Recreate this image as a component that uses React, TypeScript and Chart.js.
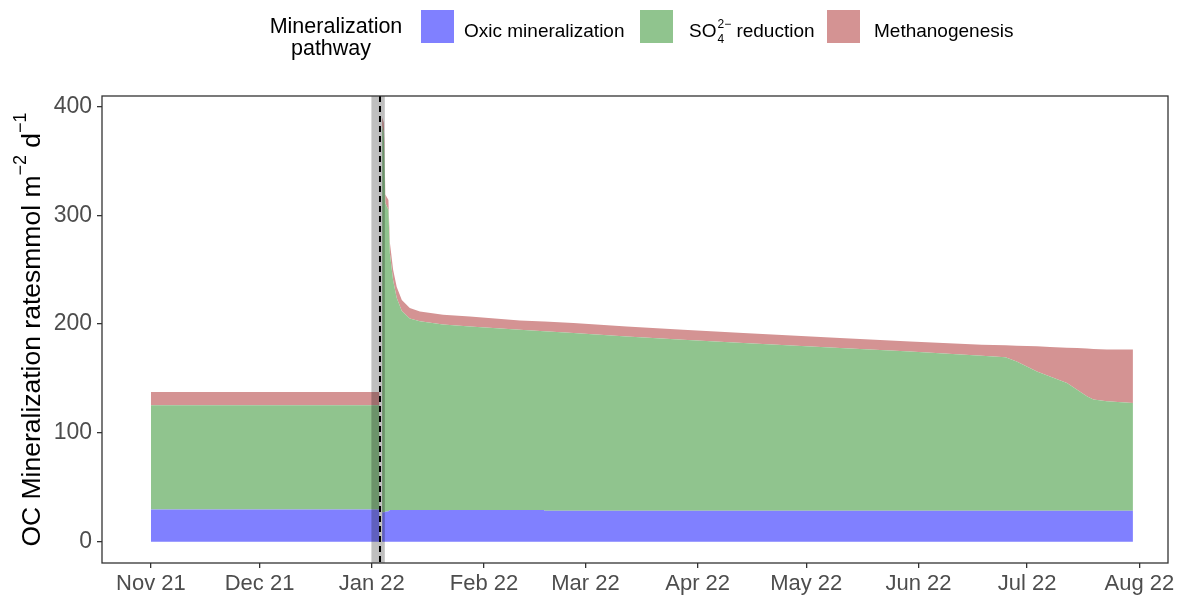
import { useEffect, useRef } from "react";
import { Chart, registerables } from "chart.js";

Chart.register(...registerables);

// x = days since 1 Nov 2021
const monthTickDays = [0, 30, 61, 92, 120, 151, 181, 212, 242, 273];
const monthTickLabels = ["Nov 21", "Dec 21", "Jan 22", "Feb 22", "Mar 22", "Apr 22", "May 22", "Jun 22", "Jul 22", "Aug 22"];
const yTicks = [0, 100, 200, 300, 400];

const days = [
  0, 63.07, 63.1, 63.85, 63.9, 64.3, 64.5, 64.75, 65.6, 66.0, 66.9, 67.9, 69.3, 71.5, 74.3, 80.7, 88.1, 101.9, 108.6,
  108.7, 116.7, 131.4, 147, 163.6, 190.3, 209.7, 229.5, 236, 239.1, 241.9, 244.7, 248.3, 253, 255.8,
  258.5, 260.3, 264, 271.2,
];
const oxic = [
  29.6, 29.6, 0, 0, 27.2, 27.2, 27.2, 27.5, 28.0, 29.3, 29.3, 29.3, 29.3, 29.3, 29.3, 29.3, 29.3, 29.3, 29.3,
  28.6, 28.6, 28.6, 28.6, 28.6, 28.6, 28.6, 28.6, 28.6, 28.6, 28.6, 28.6, 28.6, 28.6, 28.6,
  28.6, 28.6, 28.6, 28.6,
];
const sulfate = [
  95.7, 95.7, 0, 0, 354.8, 348.8, 326.8, 283.5, 277, 235.7, 210.7, 194.7, 182.7, 175.7, 173.2, 170.2, 168.5, 165.5, 164.2,
  164.9, 163.1, 160, 157, 154, 149.4, 146.3, 142.4, 140.9, 137.1, 132.5, 127.9, 123.3, 117.3, 111.1,
  105, 102, 100.4, 98.9,
];
const methane = [
  12.3, 12.3, 0, 0, 8, 9, 11, 8, 9, 10, 10, 10, 10, 9.7, 9, 9, 9.2, 8.5, 8.8,
  8.8, 9.2, 9.2, 9.2, 9.1, 9.2, 9.1, 10, 11, 14.4, 18.7, 23, 27.1, 32.4, 38.3,
  43.9, 46.6, 47.7, 49.2,
];

const eventBandStart = 60.9;
const eventBandEnd = 64.6;
const eventLineDay = 63.2;

const colOxic = "rgb(128,128,255)";
const colSulfate = "rgb(144,196,142)";
const colMethane = "rgb(212,147,147)";

const FONT = '"Liberation Sans", Arial, sans-serif';

const overlayPlugin = {
  id: "overlay",
  afterDatasetsDraw(chart: any) {
    const { ctx, chartArea, scales } = chart;
    const xs = scales.x;
    ctx.save();
    const x0 = xs.getPixelForValue(eventBandStart);
    const x1 = xs.getPixelForValue(eventBandEnd);
    ctx.fillStyle = "rgba(0,0,0,0.25)";
    ctx.fillRect(x0, chartArea.top, x1 - x0, chartArea.bottom - chartArea.top);
    const xl = Math.round(xs.getPixelForValue(eventLineDay));
    ctx.strokeStyle = "#000";
    ctx.lineWidth = 2;
    ctx.setLineDash([6, 4]);
    ctx.beginPath();
    ctx.moveTo(xl, chartArea.top);
    ctx.lineTo(xl, chartArea.bottom);
    ctx.stroke();
    ctx.restore();
  },
  afterDraw(chart: any) {
    const { ctx, chartArea } = chart;
    ctx.save();
    ctx.strokeStyle = "#333333";
    ctx.lineWidth = 1.3;
    ctx.strokeRect(chartArea.left, chartArea.top, chartArea.right - chartArea.left, chartArea.bottom - chartArea.top);

    // y axis title with superscripts
    const cy = (chartArea.top + chartArea.bottom) / 2;
    const mainFont = `26.5px ${FONT}`;
    const supFont = `18px ${FONT}`;
    const parts = [
      { t: "OC Mineralization ratesmmol m", f: mainFont, dy: 0 },
      { t: "\u22122", f: supFont, dy: -14 },
      { t: " d", f: mainFont, dy: 0 },
      { t: "\u22121", f: supFont, dy: -14 },
    ];
    let total = 0;
    parts.forEach((p) => {
      ctx.font = p.f;
      total += ctx.measureText(p.t).width;
    });
    ctx.translate(40, cy);
    ctx.rotate(-Math.PI / 2);
    ctx.fillStyle = "#000";
    ctx.textBaseline = "alphabetic";
    ctx.textAlign = "left";
    let px = -total / 2;
    parts.forEach((p) => {
      ctx.font = p.f;
      ctx.fillText(p.t, px, p.dy);
      px += ctx.measureText(p.t).width;
    });
    ctx.setTransform(1, 0, 0, 1, 0, 0);

    // legend
    ctx.fillStyle = "#000";
    ctx.font = `21.5px ${FONT}`;
    ctx.textAlign = "center";
    ctx.fillText("Mineralization", 336, 33);
    ctx.fillText("pathway", 331, 55);
    ctx.textAlign = "left";

    const boxes = [
      { x: 421, c: colOxic },
      { x: 640, c: colSulfate },
      { x: 827, c: colMethane },
    ];
    boxes.forEach((b) => {
      ctx.fillStyle = b.c;
      ctx.fillRect(b.x, 10, 33, 33);
    });
    ctx.fillStyle = "#000";
    ctx.font = `19px ${FONT}`;
    ctx.fillText("Oxic mineralization", 464, 37);
    ctx.fillText("SO", 689, 37);
    const soW = ctx.measureText("SO").width;
    ctx.font = `12px ${FONT}`;
    ctx.fillText("2\u2212", 689 + soW + 1, 28);
    ctx.fillText("4", 689 + soW + 1, 43);
    const supW = ctx.measureText("2\u2212").width;
    ctx.font = `19px ${FONT}`;
    ctx.fillText(" reduction", 689 + soW + supW + 1, 37);
    ctx.fillText("Methanogenesis", 874, 37);
    ctx.restore();
  },
};

export default function App() {
  const ref = useRef<HTMLCanvasElement | null>(null);
  useEffect(() => {
    if (!ref.current) return;
    const mk = (vals: number[]) => days.map((d, i) => ({ x: d, y: vals[i] }));
    const chart = new Chart(ref.current, {
      type: "line",
      data: {
        datasets: [
          { label: "Oxic mineralization", data: mk(oxic) as any, backgroundColor: colOxic, fill: "origin" },
          { label: "SO4 reduction", data: mk(sulfate) as any, backgroundColor: colSulfate, fill: "-1" },
          { label: "Methanogenesis", data: mk(methane) as any, backgroundColor: colMethane, fill: "-1" },
        ].map((d) => ({
          ...d,
          borderWidth: 0,
          borderColor: "rgba(0,0,0,0)",
          borderDash: [4, 4],
          pointRadius: 0,
          tension: 0,
        })),
      },
      options: {
        animation: false,
        responsive: false,
        devicePixelRatio: 1,
        layout: { padding: { left: 0, top: 96, right: 16, bottom: 0 } },
        plugins: { legend: { display: false }, tooltip: { enabled: false } },
        scales: {
          x: {
            type: "linear",
            min: -13.5,
            max: 280.9,
            afterBuildTicks: (scale: any) => {
              scale.ticks = monthTickDays.map((v) => ({ value: v }));
            },
            afterFit: (scale: any) => {
              scale.height = 38;
            },
            grid: { drawOnChartArea: false, drawTicks: true, tickLength: 5, color: "#333333", lineWidth: 1.3 },
            border: { display: false },
            ticks: {
              autoSkip: false,
              maxRotation: 0,
              minRotation: 0,
              padding: 3,
              color: "#4d4d4d",
              font: { family: FONT, size: 22 },
              callback: (v: any) => {
                const i = monthTickDays.indexOf(Number(v));
                return i >= 0 ? monthTickLabels[i] : "";
              },
            },
          },
          y: {
            type: "linear",
            stacked: true,
            min: -19.5,
            max: 409.5,
            afterBuildTicks: (scale: any) => {
              scale.ticks = yTicks.map((v) => ({ value: v }));
            },
            afterFit: (scale: any) => {
              scale.width = 102;
            },
            grid: { drawOnChartArea: false, drawTicks: true, tickLength: 5, color: "#333333", lineWidth: 1.3 },
            border: { display: false },
            ticks: {
              padding: 5,
              color: "#4d4d4d",
              font: { family: FONT, size: 23 },
              callback: (v: any) => String(v),
            },
          },
        },
      },
      plugins: [overlayPlugin],
    });
    return () => chart.destroy();
  }, []);
  return (
    <div style={{ position: "fixed", left: 0, top: 0, width: 1184, height: 601, background: "#fff" }}>
      <canvas ref={ref} width={1184} height={601} style={{ display: "block" }} />
    </div>
  );
}
